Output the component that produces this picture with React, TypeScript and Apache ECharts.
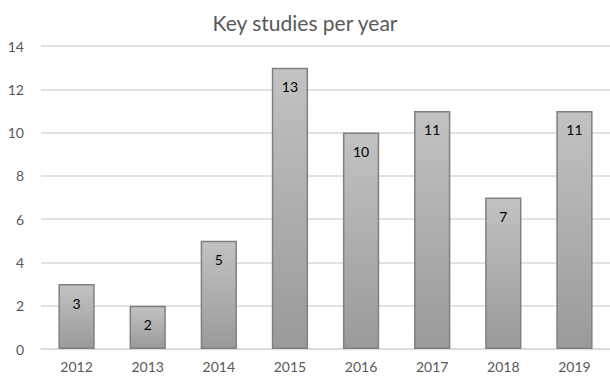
import React, { useEffect, useRef } from "react";
import * as echarts from "echarts";

const years = ["2012", "2013", "2014", "2015", "2016", "2017", "2018", "2019"];
const studies = [3, 2, 5, 13, 10, 11, 7, 11];
const titleText = "Key studies per year";

export default function App() {
  const ref = useRef<HTMLDivElement>(null);
  useEffect(() => {
    const chart = echarts.init(ref.current!, null, { renderer: "svg" });
    const font = "Lato, 'Open Sans', sans-serif";
    chart.setOption({
      animation: false,
      backgroundColor: "#ffffff",
      title: {
        text: titleText,
        left: "center",
        top: 7,
        textStyle: { fontFamily: font, fontSize: 21, fontWeight: "normal", color: "#595959" },
      },
      grid: { left: 41, right: 0, top: 46, bottom: 27 },
      xAxis: {
        type: "category",
        data: years,
        axisLine: { lineStyle: { color: "#d9d9d9", width: 1.5 } },
        axisTick: { show: false },
        axisLabel: { fontFamily: font, fontSize: 14, color: "#595959", margin: 10 },
      },
      yAxis: {
        type: "value",
        min: 0,
        max: 14,
        interval: 2,
        axisLine: { show: false },
        axisTick: { show: false },
        splitLine: { lineStyle: { color: "#d9d9d9", width: 1.5 } },
        axisLabel: { fontFamily: font, fontSize: 14, color: "#595959", margin: 17 },
      },
      series: [
        {
          type: "bar",
          data: studies,
          barWidth: "51%",
          itemStyle: {
            color: new echarts.graphic.LinearGradient(0, 0, 0, 1, [
              { offset: 0, color: "#c2c2c2" },
              { offset: 1, color: "#9a9a9a" },
            ]),
            borderColor: "#808080",
            borderWidth: 1.5,
          },
          label: {
            show: true,
            position: "insideTop",
            distance: 12,
            fontFamily: font,
            fontSize: 14,
            color: "#000000",
          },
        },
      ],
    });
    return () => chart.dispose();
  }, []);
  return (
    <div
      ref={ref}
      style={{ position: "fixed", left: 0, top: 0, width: 610, height: 376 }}
    />
  );
}
